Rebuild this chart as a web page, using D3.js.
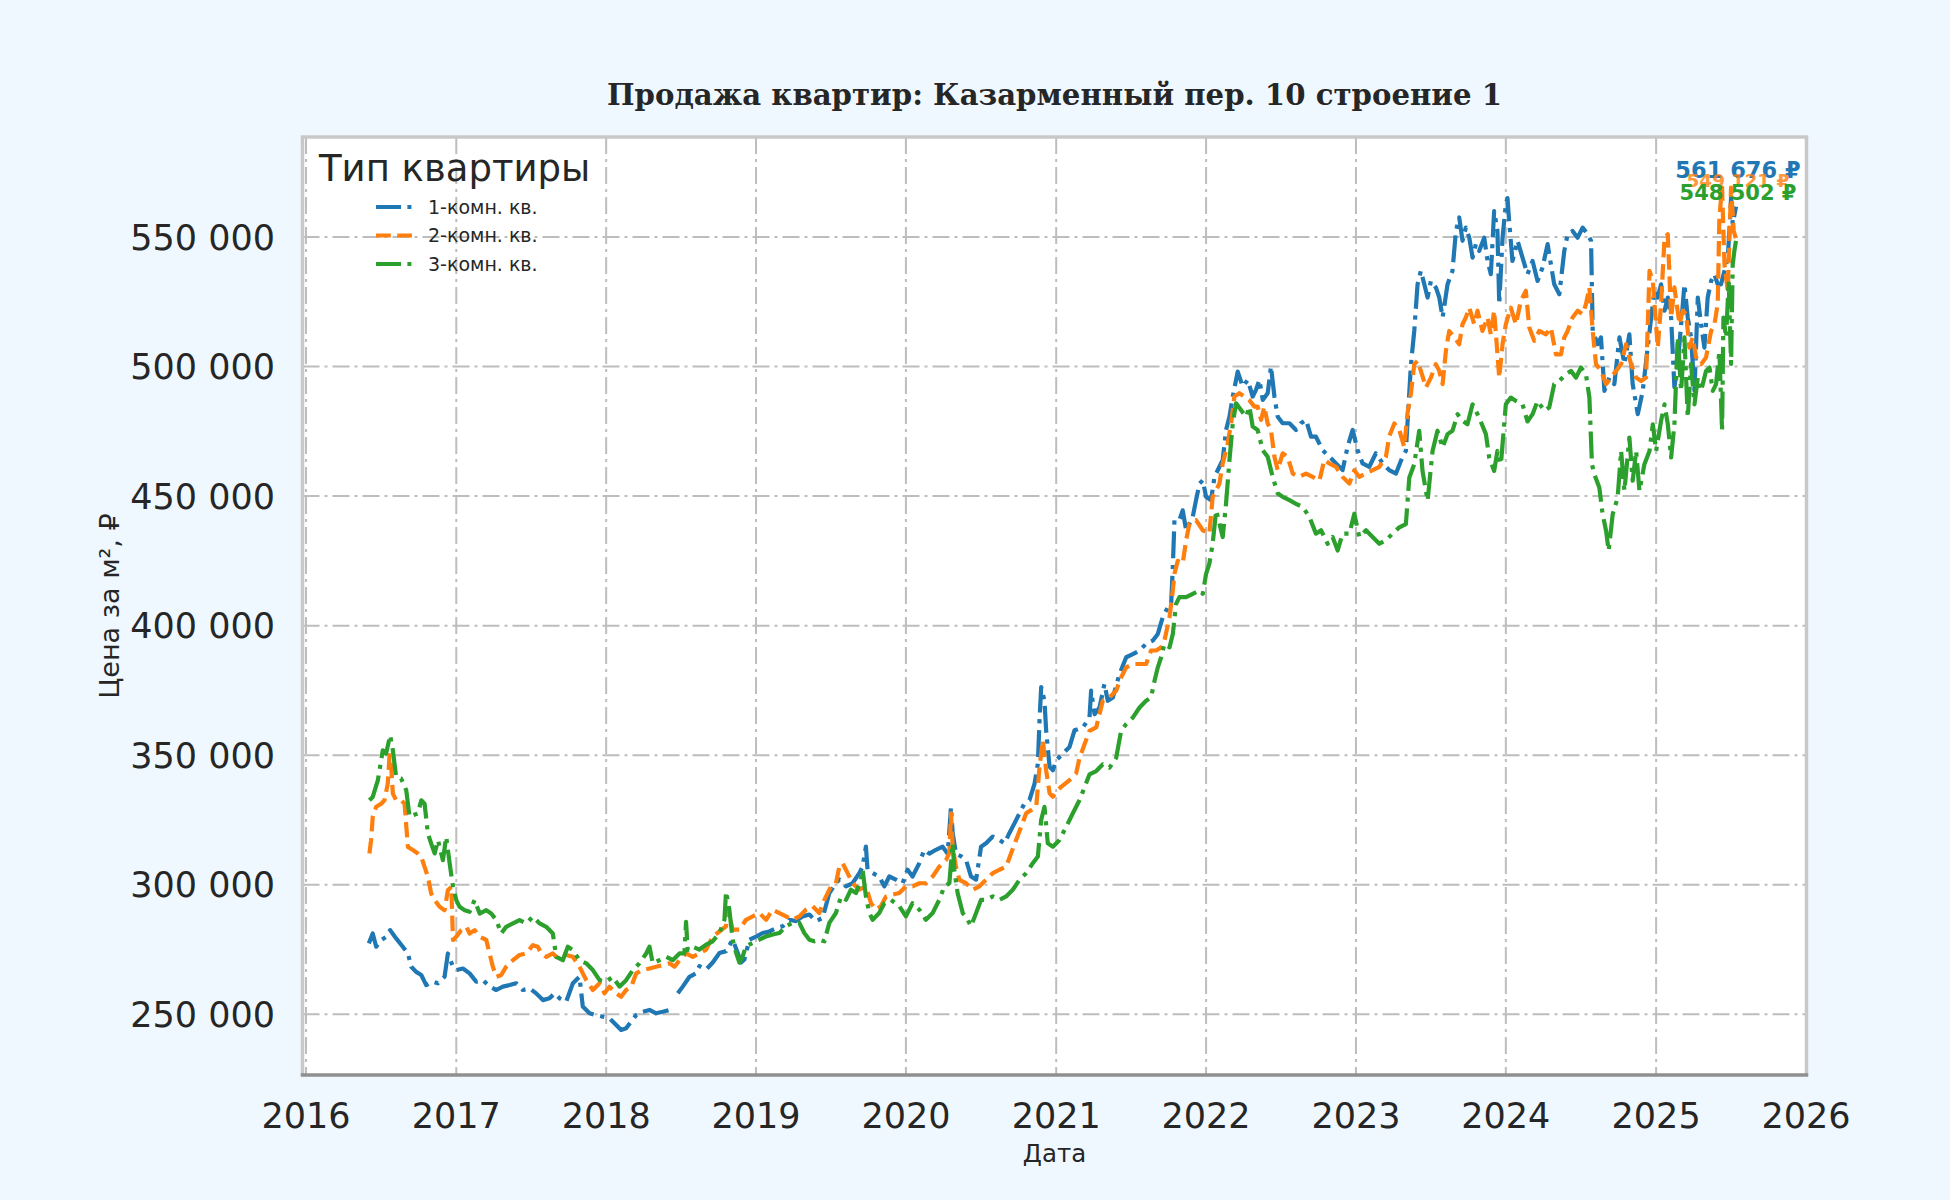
<!DOCTYPE html>
<html>
<head>
<meta charset="utf-8">
<script src="https://cdn.jsdelivr.net/npm/d3@7"></script>
<style>
body { margin: 0; background: #f0f8ff; }
svg { display: block; }
</style>
</head>
<body>
<div id="canvas"></div>
<script>
"use strict"

// data: [decimal year, price per m2]
let rooms1 = [
[2016.418,277400],[2016.444,281200],[2016.467,276100],[2016.5,278700],[2016.533,279900],[2016.56,282500],[2016.6,279300],[2016.644,276100],[2016.678,273500],[2016.7,268400],[2016.733,266400],[2016.767,265200],[2016.8,261300],[2016.844,262600],[2016.878,262000],[2016.922,264500],[2016.944,273500],[2016.978,268400],[2017.0,267100],[2017.044,267700],[2017.089,265800],[2017.133,262600],[2017.178,263200],[2017.222,260700],[2017.267,259400],[2017.311,260700],[2017.356,261300],[2017.4,262000],[2017.444,259400],[2017.489,260000],[2017.533,258100],[2017.578,255500],[2017.622,256200],[2017.656,258100],[2017.689,256200],[2017.733,254900],[2017.778,262000],[2017.822,264500],[2017.844,253000],[2017.889,250400],[2017.933,249700],[2017.978,249100],[2018.022,248500],[2018.067,245900],[2018.1,244000],[2018.133,244600],[2018.167,247200],[2018.2,249700],[2018.244,251000],[2018.289,251700],[2018.333,250400],[2018.378,251000],[2018.422,251700],[2018.456,252300],[2018.467,null],[2018.478,258100],[2018.511,260700],[2018.556,264500],[2018.6,265800],
[2018.622,268600],[2018.667,267300],[2018.711,270000],[2018.756,273700],[2018.8,274400],[2018.844,278800],[2018.878,273700],[2018.9,270000],[2018.922,271200],[2018.956,278800],[2019.0,280000],[2019.044,281400],[2019.089,282000],[2019.133,283300],[2019.178,284000],[2019.222,286500],[2019.267,286000],[2019.311,287800],[2019.356,288500],[2019.4,286000],[2019.444,287200],[2019.489,296800],[2019.533,300600],[2019.556,302000],[2019.6,299400],[2019.644,300600],[2019.689,304500],[2019.711,307000],[2019.733,314700],[2019.744,305800],[2019.778,304500],[2019.822,303200],[2019.856,299400],[2019.889,303200],[2019.933,302000],[2019.978,300600],[2020.011,305800],[2020.044,303200],[2020.089,308300],[2020.122,313500],[2020.156,312000],[2020.2,313500],[2020.244,314700],[2020.278,312000],[2020.3,330000],[2020.311,320000],[2020.333,312000],[2020.367,311000],[2020.4,309600],[2020.433,303200],[2020.467,302000],[2020.5,314700],[2020.533,316000],[2020.578,318600],[2020.622,317300],[2020.656,316000],[2020.689,320000],[2020.722,323700],[2020.756,327600],[2020.789,331400],[2020.822,332700],[2020.856,339000],[2020.878,346800],[2020.889,363500],[2020.9,376300],[2020.922,371000],[2020.933,359600],[2020.956,345500],[2020.978,344200],[2021.0,348000],[2021.044,350600],[2021.089,353200],[2021.122,359600],
[2021.178,360700],[2021.222,364500],[2021.233,374900],[2021.256,365800],[2021.289,368400],[2021.322,377500],[2021.344,371000],[2021.378,372300],[2021.422,381300],[2021.467,387800],[2021.511,389000],[2021.556,390400],[2021.6,393000],[2021.644,394200],[2021.678,396800],[2021.711,403300],[2021.744,407000],[2021.767,408400],[2021.778,422600],[2021.789,440700],[2021.822,440700],[2021.844,444500],[2021.867,436800],[2021.889,439400],[2021.911,442000],[2021.933,448400],[2021.956,454800],[2021.978,456100],[2022.0,449700],[2022.033,448400],[2022.056,457400],[2022.089,461300],[2022.111,463900],[2022.133,475500],[2022.156,480600],[2022.178,488400],[2022.211,498000],[2022.244,492300],[2022.278,494800],[2022.311,488400],[2022.333,491000],[2022.356,494800],[2022.378,487100],[2022.411,489700],[2022.433,500000],[2022.456,488400],[2022.478,480600],[2022.511,478100],[2022.556,478100],[2022.6,475500],[2022.633,478100],[2022.667,479400],[2022.7,472900],[2022.733,472900],[2022.778,467700],[2022.822,465200],[2022.867,462600],[2022.911,460000],[2022.944,469000],[2022.978,475500],[2023.011,467700],[2023.044,462600],[2023.089,461300],[2023.133,466500],[2023.178,462600],[2023.222,460000],[2023.267,458700],[2023.311,465200],[2023.333,467400],
[2023.367,500900],[2023.389,513700],[2023.411,531700],[2023.433,536900],[2023.456,531700],[2023.478,526600],[2023.5,533000],[2023.533,530500],[2023.556,526600],[2023.578,518900],[2023.611,531700],[2023.644,536900],[2023.667,552300],[2023.689,557500],[2023.711,548500],[2023.733,553600],[2023.756,549700],[2023.778,542000],[2023.8,547200],[2023.822,544600],[2023.856,549700],[2023.878,540700],[2023.9,535600],[2023.922,560000],[2023.944,552300],[2023.956,524000],[2023.978,549700],[2024.0,562600],[2024.011,565000],[2024.022,556200],[2024.044,540700],[2024.078,548500],[2024.111,542000],[2024.144,535600],[2024.178,540700],[2024.211,533000],[2024.244,538200],[2024.278,547200],[2024.3,539400],[2024.322,531700],[2024.356,527900],[2024.389,544600],[2024.411,551000],[2024.444,552300],[2024.478,549700],[2024.511,553600],[2024.544,551000],[2024.567,548500],[2024.578,513700],[2024.611,508600],[2024.633,511200],[2024.656,490600],[2024.689,495700],[2024.722,493200],[2024.756,511200],[2024.789,501000],[2024.822,512400],[2024.844,493200],[2024.878,481600],[2024.911,490600],[2024.944,507300],[2024.967,518900],[2024.989,529200],[2025.011,526600],[2025.033,531700],[2025.056,521500],[2025.078,526600],[2025.1,518900],[2025.122,492000],[2025.144,500900],[2025.167,516300],[2025.189,531700],[2025.211,518900],[2025.233,511200],[2025.256,490600],[2025.278,526600],[2025.3,516300],[2025.322,507300],[2025.344,526600],[2025.367,533000],[2025.389,535600],[2025.411,531700],[2025.433,531700],[2025.456,536900],[2025.478,542000],[2025.489,552300],[2025.5,565200],[2025.511,555000],[2025.533,561676]
];

let rooms2 = [
[2016.422,312100],[2016.433,317200],[2016.444,326200],[2016.467,330100],[2016.5,331300],[2016.522,332600],[2016.544,339000],[2016.556,350000],[2016.567,345500],[2016.578,335200],[2016.6,332600],[2016.633,332600],[2016.656,331300],[2016.678,314600],[2016.711,313400],[2016.744,312100],[2016.767,310800],[2016.789,306900],[2016.811,303100],[2016.833,296600],[2016.856,294100],[2016.889,291500],[2016.922,290200],[2016.944,297900],[2016.967,299200],[2016.978,278700],[2017.0,280000],[2017.033,282500],[2017.067,283800],[2017.089,281200],[2017.122,282500],[2017.156,280000],[2017.2,278700],[2017.222,273500],[2017.244,268400],[2017.267,264500],[2017.3,265200],[2017.333,268400],[2017.378,270900],[2017.422,272900],[2017.467,273500],[2017.511,276700],[2017.544,276100],[2017.567,273500],[2017.6,272200],[2017.644,273500],[2017.667,272200],[2017.7,273500],[2017.733,272900],[2017.778,272200],[2017.822,268400],[2017.867,263200],[2017.911,259400],[2017.956,262000],[2017.989,258100],[2018.022,260700],[2018.067,258100],[2018.1,256800],[2018.133,259400],[2018.167,260700],[2018.2,265800],[2018.244,267100],[2018.289,267700],[2018.333,268400],[2018.378,269000],[2018.422,269700],[2018.456,268400],[2018.489,270900],[2018.533,273500],[2018.578,272200],[2018.622,273500],
[2018.667,275000],[2018.711,280100],[2018.756,282000],[2018.8,284000],[2018.811,291000],[2018.844,282700],[2018.889,282700],[2018.933,286500],[2018.978,287800],[2019.022,289100],[2019.067,286500],[2019.111,290400],[2019.156,289100],[2019.2,287800],[2019.244,286500],[2019.289,287800],[2019.333,290400],[2019.378,291700],[2019.422,289100],[2019.456,294200],[2019.5,299400],[2019.533,300600],[2019.556,307000],[2019.578,308300],[2019.611,304500],[2019.644,300600],[2019.689,298100],[2019.733,299400],[2019.767,292900],[2019.8,290400],[2019.833,291700],[2019.867,295500],[2019.911,296200],[2019.956,296800],[2020.0,299400],[2020.044,299400],[2020.089,300600],[2020.133,300600],[2020.178,303200],[2020.222,307000],[2020.267,309600],[2020.289,312200],[2020.3,327600],[2020.311,314700],[2020.333,307000],[2020.356,301900],[2020.4,300600],[2020.444,298100],[2020.489,299400],[2020.533,301900],[2020.578,304500],[2020.622,305800],[2020.667,307000],[2020.7,312200],[2020.733,317300],[2020.767,322400],[2020.8,327600],[2020.833,328800],[2020.867,330100],[2020.889,345500],[2020.911,355800],[2020.933,344200],[2020.956,335300],[2020.978,334000],[2021.011,336500],[2021.033,337800],[2021.089,340400],[2021.133,343000],
[2021.156,349000],[2021.189,354200],[2021.222,359400],[2021.267,360700],[2021.311,371000],[2021.356,372300],[2021.4,374900],[2021.433,380000],[2021.467,383900],[2021.511,385200],[2021.556,385200],[2021.6,385200],[2021.633,390400],[2021.667,390400],[2021.7,391600],[2021.722,394200],[2021.756,403200],[2021.778,413600],[2021.789,420000],[2021.811,425000],[2021.844,424000],[2021.867,433000],[2021.889,439400],[2021.933,440700],[2021.978,436800],[2022.022,435500],[2022.044,449700],[2022.067,452300],[2022.089,454800],[2022.111,462600],[2022.144,470300],[2022.167,478000],[2022.189,488400],[2022.222,489700],[2022.256,488400],[2022.289,487000],[2022.322,484500],[2022.344,484500],[2022.367,479400],[2022.389,484500],[2022.411,478000],[2022.433,475500],[2022.456,465200],[2022.478,460000],[2022.511,466500],[2022.544,465200],[2022.578,458700],[2022.622,457400],[2022.667,458700],[2022.711,457400],[2022.756,456000],[2022.789,463900],[2022.822,462600],[2022.867,461300],[2022.911,457400],[2022.956,454800],[2022.989,460000],[2023.022,457400],[2023.067,458700],[2023.111,460000],[2023.156,461300],[2023.2,465200],[2023.222,473000],[2023.256,478000],[2023.289,475500],[2023.322,469000],[2023.344,482000],[2023.367,489700],[2023.389,500900],[2023.411,502200],
[2023.433,498300],[2023.467,491900],[2023.5,495700],[2023.533,500900],[2023.556,498300],[2023.578,493200],[2023.6,506000],[2023.622,513700],[2023.656,511200],[2023.689,508600],[2023.711,516300],[2023.733,518900],[2023.756,522700],[2023.789,516300],[2023.811,521500],[2023.844,513700],[2023.878,518900],[2023.9,512400],[2023.922,521500],[2023.956,495700],[2023.978,508600],[2024.0,516300],[2024.033,522700],[2024.067,516300],[2024.1,525300],[2024.133,529200],[2024.156,515000],[2024.189,509900],[2024.222,513700],[2024.267,512400],[2024.3,515000],[2024.333,504700],[2024.367,504700],[2024.389,511200],[2024.411,513700],[2024.444,518900],[2024.478,521500],[2024.511,520200],[2024.533,524000],[2024.556,530500],[2024.578,513700],[2024.6,500900],[2024.633,498300],[2024.667,493200],[2024.7,495700],[2024.733,498300],[2024.767,500900],[2024.8,508600],[2024.833,500900],[2024.867,495700],[2024.9,494400],[2024.933,495700],[2024.956,536900],[2024.978,533000],[2025.011,507300],[2025.033,524000],[2025.056,549700],[2025.078,551000],[2025.1,518900],[2025.122,530500],[2025.156,516300],[2025.178,521500],[2025.2,520200],[2025.222,507300],[2025.244,511200],[2025.267,503500],[2025.3,500900],[2025.333,503500],[2025.367,513700],[2025.389,516300],[2025.411,524000],[2025.422,557500],[2025.44,569000],[2025.456,539400],[2025.478,529200],[2025.5,569000],[2025.518,552300],[2025.533,549121]
];

let rooms3 = [
[2016.422,332600],[2016.444,333900],[2016.478,340300],[2016.511,351900],[2016.533,350600],[2016.56,357700],[2016.578,351900],[2016.6,341600],[2016.633,341000],[2016.667,336500],[2016.689,326200],[2016.711,326800],[2016.744,327500],[2016.767,332600],[2016.789,331300],[2016.811,319800],[2016.833,315900],[2016.856,312100],[2016.878,317200],[2016.911,309500],[2016.933,318500],[2016.956,308200],[2016.978,299200],[2017.0,294100],[2017.022,291500],[2017.056,290200],[2017.089,289600],[2017.122,294100],[2017.156,288900],[2017.2,290200],[2017.233,288900],[2017.267,286400],[2017.3,281200],[2017.333,283800],[2017.378,285100],[2017.422,286400],[2017.467,285100],[2017.511,287700],[2017.556,285100],[2017.6,283800],[2017.644,281200],[2017.667,272200],[2017.711,270900],[2017.744,276100],[2017.778,274800],[2017.822,270900],[2017.867,269700],[2017.911,267100],[2017.956,263200],[2018.0,262600],[2018.044,264500],[2018.089,260700],[2018.133,263200],[2018.178,267100],[2018.222,269700],[2018.267,273500],[2018.289,276100],[2018.311,269700],[2018.356,270900],[2018.4,272200],[2018.444,270900],[2018.489,273500],[2018.522,273500],[2018.533,285700],[2018.544,274800],[2018.578,276100],[2018.622,275000],
[2018.667,276900],[2018.711,278200],[2018.756,281400],[2018.789,286500],[2018.8,297400],[2018.822,290400],[2018.844,278800],[2018.867,273700],[2018.889,270000],[2018.911,272400],[2018.933,276300],[2018.978,277600],[2019.022,278800],[2019.067,280100],[2019.111,280800],[2019.156,281400],[2019.2,284000],[2019.244,285300],[2019.289,285300],[2019.322,281400],[2019.356,278800],[2019.389,278200],[2019.422,278800],[2019.456,278200],[2019.489,285300],[2019.533,289100],[2019.567,295500],[2019.6,294200],[2019.633,298100],[2019.667,296800],[2019.7,301900],[2019.711,305800],[2019.733,295500],[2019.756,289100],[2019.778,286500],[2019.822,289100],[2019.856,292900],[2019.9,294200],[2019.956,291700],[2020.0,287800],[2020.044,292900],[2020.089,290400],[2020.133,286500],[2020.178,289100],[2020.222,294200],[2020.256,299400],[2020.289,300600],[2020.311,316000],[2020.322,305800],[2020.344,296800],[2020.378,289100],[2020.411,286500],[2020.433,284000],[2020.467,289100],[2020.5,294200],[2020.533,294200],[2020.578,295500],[2020.622,294200],[2020.667,295500],[2020.711,298100],[2020.756,301900],[2020.8,304500],[2020.844,308300],[2020.878,310900],[2020.9,325000],[2020.922,330100],[2020.944,316000],[2020.978,314700],[2021.022,317300],[2021.067,322400],[2021.111,327600],[2021.156,332700],
[2021.222,342600],[2021.267,343900],[2021.311,346500],[2021.356,345200],[2021.4,349000],[2021.433,359400],[2021.467,362000],[2021.511,364500],[2021.556,368400],[2021.6,371000],[2021.633,372300],[2021.656,378700],[2021.678,383900],[2021.7,387800],[2021.722,393000],[2021.756,391600],[2021.778,396800],[2021.8,408400],[2021.822,411000],[2021.867,411000],[2021.911,412300],[2021.956,413600],[2021.978,412300],[2022.0,420000],[2022.022,423900],[2022.044,431600],[2022.067,444500],[2022.089,439400],[2022.111,434200],[2022.133,447000],[2022.156,463900],[2022.178,478000],[2022.2,485800],[2022.233,483200],[2022.267,480600],[2022.289,484500],[2022.311,476800],[2022.344,475500],[2022.378,467700],[2022.411,465200],[2022.444,457400],[2022.478,451000],[2022.511,449700],[2022.556,448400],[2022.6,447000],[2022.644,445800],[2022.689,442000],[2022.733,435500],[2022.767,436800],[2022.811,431600],[2022.844,434200],[2022.878,429000],[2022.911,435500],[2022.956,435500],[2022.989,443200],[2023.022,434200],[2023.067,436800],[2023.111,434200],[2023.156,431600],[2023.2,432900],[2023.244,435500],[2023.289,437900],[2023.333,439200],
[2023.356,457200],[2023.389,462300],[2023.422,475200],[2023.444,459700],[2023.478,448200],[2023.511,467400],[2023.544,475200],[2023.578,468700],[2023.611,473900],[2023.644,475200],[2023.678,481600],[2023.711,479000],[2023.744,477700],[2023.778,485400],[2023.822,480300],[2023.867,473900],[2023.889,464900],[2023.922,459700],[2023.944,467400],[2023.967,462300],[2024.0,485400],[2024.033,488000],[2024.067,486700],[2024.111,485400],[2024.144,478800],[2024.178,481600],[2024.211,486700],[2024.256,482900],[2024.289,484200],[2024.322,493200],[2024.356,494400],[2024.4,497000],[2024.433,498300],[2024.467,495700],[2024.5,499600],[2024.533,497000],[2024.556,488000],[2024.573,462300],[2024.589,458400],[2024.622,453300],[2024.644,443000],[2024.667,436600],[2024.684,428900],[2024.711,443000],[2024.744,449400],[2024.767,467400],[2024.789,452000],[2024.822,472600],[2024.844,455900],[2024.867,467400],[2024.889,452000],[2024.922,462300],[2024.956,467400],[2024.978,477700],[2025.0,467400],[2025.033,479000],[2025.056,485400],[2025.078,477700],[2025.1,464900],[2025.122,477700],[2025.144,511200],[2025.167,490600],[2025.189,511200],[2025.211,480300],[2025.233,500900],[2025.256,485400],[2025.278,495700],[2025.3,490600],[2025.333,498300],[2025.356,499600],[2025.378,490600],[2025.4,493200],[2025.422,506000],[2025.44,475200],[2025.449,518900],[2025.467,511200],[2025.484,533000],[2025.5,501000],[2025.511,539400],[2025.522,544600],[2025.533,548502]
];

let seriesNames = ["1-комн. кв.", "2-комн. кв.", "3-комн. кв."];
let yearTicks = [2016, 2017, 2018, 2019, 2020, 2021, 2022, 2023, 2024, 2025, 2026];
let priceTicks = [250000, 300000, 350000, 400000, 450000, 500000, 550000];

let chartTitle = "Продажа квартир: Казарменный пер. 10 строение 1";
let xTitle = "Дата";
let yTitle = "Цена за м², ₽";
let legendTitle = "Тип квартиры";

// layout
let drawingWidth = 1950;
let drawingHeight = 1200;
let frameLeft = 302.5, frameRight = 1806.5, frameTop = 137, frameBottom = 1075;

let colors = ["#1f77b4", "#ff7f0e", "#2ca02c"];
let dashes = ["27,6.7,4.2,6.7", "15.5,6.7", "27,6.7,4.2,6.7"];
let legendDashes = ["25,6.4,4,6.4", "14.8,6.4", "25,6.4,4,6.4"];
let textColor = "#262626";

function yearToDate(v) {
    let yr = Math.floor(v);
    let a = Date.UTC(yr, 0, 1), b = Date.UTC(yr + 1, 0, 1);
    return new Date(a + (v - yr) * (b - a));
}

let fmt = v => d3.format(",.0f")(v).replace(/,/g, " ");

let x = d3.scaleUtc()
    .domain([yearToDate(2016), yearToDate(2026)])
    .range([306, 1806]);

let y = d3.scaleLinear()
    .domain([226600, 588550])
    .range([frameBottom, frameTop]);

let drawing = d3.select("#canvas")
    .append("svg")
    .attr("width", drawingWidth)
    .attr("height", drawingHeight)
    .style("font-family", "'DejaVu Sans', sans-serif");

drawing.append("rect")
    .attr("width", drawingWidth)
    .attr("height", drawingHeight)
    .attr("fill", "#f0f8ff");

drawing.append("rect")
    .attr("x", frameLeft)
    .attr("y", frameTop)
    .attr("width", frameRight - frameLeft)
    .attr("height", frameBottom - frameTop)
    .attr("fill", "#ffffff");

drawing.append("clipPath")
    .attr("id", "plotclip")
    .append("rect")
    .attr("x", frameLeft)
    .attr("y", frameTop)
    .attr("width", frameRight - frameLeft)
    .attr("height", frameBottom - frameTop);

// grid
let grid = drawing.append("g")
    .attr("stroke", "#bdbdbd")
    .attr("stroke-width", 2)
    .attr("stroke-dasharray", "17,5,3,5");

grid.selectAll("line.v")
    .data(yearTicks)
    .join("line")
    .attr("class", "v")
    .attr("x1", d => x(yearToDate(d)))
    .attr("x2", d => x(yearToDate(d)))
    .attr("y1", frameTop)
    .attr("y2", frameBottom);

grid.selectAll("line.h")
    .data(priceTicks)
    .join("line")
    .attr("class", "h")
    .attr("x1", frameLeft)
    .attr("x2", frameRight)
    .attr("y1", d => y(d))
    .attr("y2", d => y(d));

// series
let line = d3.line()
    .defined(d => d[1] != null)
    .x(d => x(yearToDate(d[0])))
    .y(d => y(d[1]));

let allSeries = [rooms1, rooms2, rooms3];

drawing.append("g")
    .attr("clip-path", "url(#plotclip)")
    .selectAll("path")
    .data(allSeries)
    .join("path")
    .attr("d", line)
    .attr("fill", "none")
    .attr("stroke", (d, i) => colors[i])
    .attr("stroke-width", 4.2)
    .attr("stroke-dasharray", (d, i) => dashes[i])
    .attr("stroke-linejoin", "round");

// frame
drawing.append("line")
    .attr("x1", frameLeft).attr("x2", frameLeft)
    .attr("y1", frameTop).attr("y2", frameBottom)
    .attr("stroke", "#c8c8c8").attr("stroke-width", 3.5);
drawing.append("line")
    .attr("x1", frameRight).attr("x2", frameRight)
    .attr("y1", frameTop).attr("y2", frameBottom)
    .attr("stroke", "#c8c8c8").attr("stroke-width", 3.5);
drawing.append("line")
    .attr("x1", frameLeft - 1.75).attr("x2", frameRight + 1.75)
    .attr("y1", frameTop).attr("y2", frameTop)
    .attr("stroke", "#c8c8c8").attr("stroke-width", 3.5);
drawing.append("line")
    .attr("x1", frameLeft - 1.75).attr("x2", frameRight + 1.75)
    .attr("y1", frameBottom).attr("y2", frameBottom)
    .attr("stroke", "#8f8f8f").attr("stroke-width", 3.5);

// axes labels
drawing.append("g")
    .selectAll("text")
    .data(yearTicks)
    .join("text")
    .attr("x", d => x(yearToDate(d)))
    .attr("y", 1128)
    .attr("text-anchor", "middle")
    .attr("font-size", 35)
    .attr("fill", textColor)
    .text(d => d);

drawing.append("g")
    .selectAll("text")
    .data(priceTicks)
    .join("text")
    .attr("x", 275)
    .attr("y", d => y(d))
    .attr("dy", "0.36em")
    .attr("text-anchor", "end")
    .attr("font-size", 35)
    .attr("fill", textColor)
    .text(d => fmt(d));

drawing.append("text")
    .attr("x", (frameLeft + frameRight) / 2)
    .attr("y", 1162)
    .attr("text-anchor", "middle")
    .attr("font-size", 24.5)
    .attr("fill", textColor)
    .text(xTitle);

drawing.append("text")
    .attr("transform", "translate(119," + ((frameTop + frameBottom) / 2) + ") rotate(-90)")
    .attr("text-anchor", "middle")
    .attr("font-size", 27)
    .attr("fill", textColor)
    .text(yTitle);

drawing.append("text")
    .attr("x", (frameLeft + frameRight) / 2)
    .attr("y", 105)
    .attr("text-anchor", "middle")
    .attr("font-family", "'DejaVu Serif', serif")
    .attr("font-weight", "bold")
    .attr("font-size", 29.2)
    .attr("fill", textColor)
    .text(chartTitle);

// legend
drawing.append("text")
    .attr("x", 319)
    .attr("y", 181)
    .attr("font-size", 37)
    .attr("fill", textColor)
    .text(legendTitle);

let legendRows = drawing.append("g")
    .selectAll("g")
    .data(seriesNames)
    .join("g")
    .attr("transform", (d, i) => "translate(376," + (207 + i * 28.5) + ")");

legendRows.append("line")
    .attr("x1", 0).attr("x2", 37)
    .attr("stroke", (d, i) => colors[i])
    .attr("stroke-width", 4)
    .attr("stroke-dasharray", (d, i) => legendDashes[i]);

legendRows.append("text")
    .attr("x", 52)
    .attr("dy", "0.36em")
    .attr("font-size", 19)
    .attr("fill", textColor)
    .text(d => d);

// last value labels
let labelSizes = [22.5, 18.5, 21];
let labelBaselines = [178, 187, 200];
let labelOpacity = [1, 0.8, 1];

drawing.append("g")
    .selectAll("text")
    .data(allSeries)
    .join("text")
    .attr("x", d => x(yearToDate(d[d.length - 1][0])) + 2)
    .attr("y", (d, i) => labelBaselines[i])
    .attr("text-anchor", "middle")
    .attr("font-weight", "bold")
    .attr("font-size", (d, i) => labelSizes[i])
    .attr("fill", (d, i) => colors[i])
    .attr("opacity", (d, i) => labelOpacity[i])
    .text(d => fmt(d[d.length - 1][1]) + " ₽");
</script>
</body>
</html>
